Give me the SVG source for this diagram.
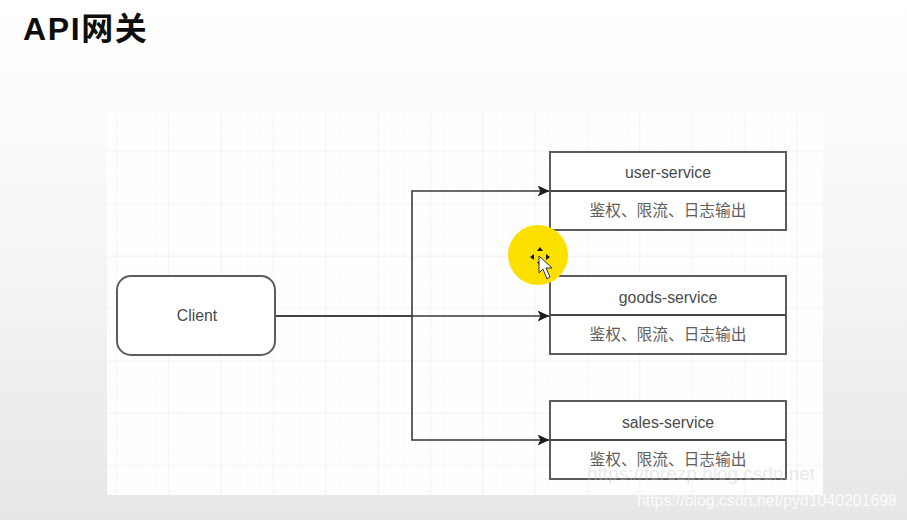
<svg xmlns="http://www.w3.org/2000/svg" width="907" height="520" viewBox="0 0 907 520">
<defs>
<linearGradient id="bg" x1="0" y1="0" x2="0" y2="1"><stop offset="0" stop-color="#ffffff"/><stop offset="0.25" stop-color="#fbfbfb"/><stop offset="1" stop-color="#e6e8e6"/></linearGradient>
<pattern id="minor" x="116" y="111" width="13.1" height="13.1" patternUnits="userSpaceOnUse"><path d="M0 0V13.1M0 0H13.1" fill="none" stroke="#f5f6f5" stroke-width="1"/></pattern>
<pattern id="major" x="116" y="99" width="52.3" height="52.3" patternUnits="userSpaceOnUse"><path d="M0 0V52.3M0 0H52.3" fill="none" stroke="#eef0ee" stroke-width="1.2"/></pattern>
<marker id="arrow" viewBox="0 0 12 11" refX="11.5" refY="5.5" markerWidth="12" markerHeight="11" markerUnits="userSpaceOnUse" orient="auto"><path d="M0 0L12 5.5L0 11L3 5.5Z" fill="#1c1c1c"/></marker>
</defs>
<style>
.box{fill:#fff;stroke:#5c5c5c;stroke-width:2}
.sep{fill:none;stroke:#484848;stroke-width:2}
.t{font-family:"Liberation Sans","Noto Sans CJK SC",sans-serif;font-size:15.8px;fill:#4a4a4a;text-anchor:middle}
.c{font-family:"Noto Sans CJK SC","Liberation Sans",sans-serif;font-size:15.7px;fill:#606060;text-anchor:middle}
.line{fill:none;stroke:#3a3a3a;stroke-width:1.6}
</style>
<rect width="907" height="520" fill="url(#bg)"/>
<rect x="107" y="110" width="716" height="385" fill="#fefefe"/>
<rect x="107" y="110" width="716" height="385" fill="url(#minor)"/>
<rect x="107" y="110" width="716" height="385" fill="url(#major)"/>
<text x="23" y="40" style="font-family:'Liberation Sans','Noto Sans CJK SC',sans-serif;font-size:32px;font-weight:700;fill:#0d0d0d;letter-spacing:1.6px">API网关</text>
<g id="connectors">
<path class="line" d="M275 316H412V191H549" marker-end="url(#arrow)"/>
<path class="line" d="M275 316H549" marker-end="url(#arrow)"/>
<path class="line" d="M412 316V440H549" marker-end="url(#arrow)"/>
</g>
<g id="client"><rect class="box" x="117" y="276" width="158" height="79" rx="14"/><text class="t" x="197" y="321">Client</text></g>
<g id="user-service"><rect class="box" x="550" y="152" width="236" height="78"/><path class="sep" d="M550 191H786"/><text class="t" x="668" y="178">user-service</text><text class="c" x="668" y="216">鉴权、限流、日志输出</text></g>
<g id="goods-service"><rect class="box" x="550" y="276" width="236" height="78"/><path class="sep" d="M550 315H786"/><text class="t" x="668" y="303">goods-service</text><text class="c" x="668" y="340">鉴权、限流、日志输出</text></g>
<g id="sales-service"><rect class="box" x="550" y="401" width="236" height="78"/><path class="sep" d="M550 440H786"/><text class="t" x="668" y="428">sales-service</text><text class="c" x="668" y="465">鉴权、限流、日志输出</text></g>
<g id="cursor">
<circle cx="538" cy="255" r="30" fill="#fbe000"/>
<path d="M537 251l3-4 3 4zM537 262l3 4 3-4zM534 254l-4 3 4 3zM546 254l4 3-4 3z" fill="#111"/>
<path d="M539 256V273L543 269L547 279L550 277L546 268L552 268Z" fill="#fff" stroke="#333" stroke-width="1"/>
</g>
<text x="587" y="480" style="font-family:'Liberation Sans',sans-serif;font-size:19px;fill:#c9cac9;opacity:.4">https://forezp.blog.csdn.net</text>
<text x="637" y="506" style="font-family:'Liberation Sans',sans-serif;font-size:15.85px;fill:#fff;opacity:.85">https://blog.csdn.net/pyd1040201698</text>
</svg>
